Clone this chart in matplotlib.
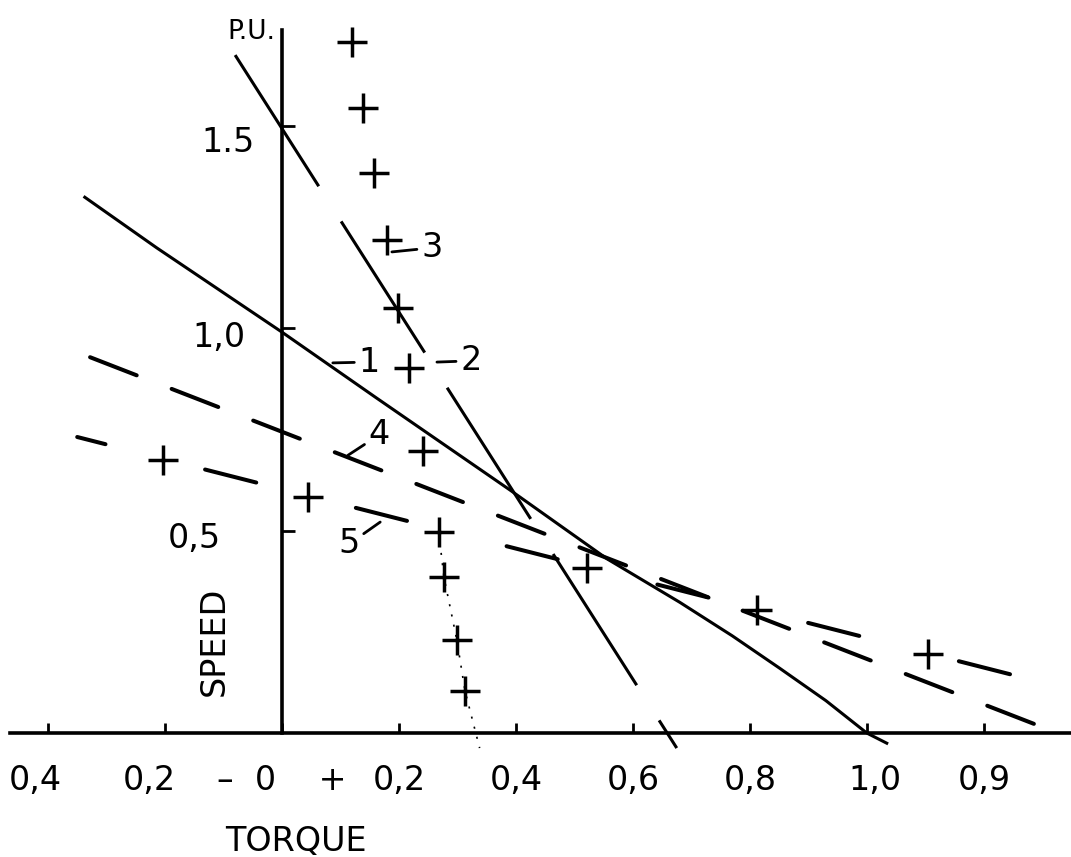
import matplotlib
matplotlib.use("Agg")
import matplotlib.pyplot as plt
from matplotlib.transforms import ScaledTranslation

plt.rcParams['font.family'] = ['DejaVu Sans']
plt.rcParams['lines.scale_dashes'] = False

# Curva 1 (continua): par vs velocidad en p.u.
c1_torque = [-0.337, -0.214, 0.0, 0.162, 0.390, 0.556, 0.680, 0.770, 0.851, 0.930, 1.0, 1.034]
c1_speed = [1.323, 1.198, 0.99, 0.827, 0.600, 0.430, 0.323, 0.240, 0.160, 0.080, 0.0, -0.025]

# Recta 2 (trazos largos)
c2_torque = [-0.080, 0.675]
c2_speed = [1.674, -0.037]

# Puntos 3 (cruces)
p3_torque = [0.120, 0.138, 0.157, 0.179, 0.198, 0.217, 0.241, 0.268, 0.277, 0.299, 0.313]
p3_speed = [1.706, 1.543, 1.383, 1.217, 1.049, 0.901, 0.696, 0.496, 0.385, 0.230, 0.104]
p3_end = (0.338, -0.037)

# Recta 4 (trazos)
c4_torque = [-0.328, 1.344]
c4_speed = [0.928, -0.010]

# Recta 5 (trazos con cruces)
c5_torque = [-0.350, 1.270]
c5_speed = [0.731, 0.136]
p5_torque = [-0.203, 0.044, 0.521, 0.812, 1.104]
p5_speed = [0.674, 0.583, 0.407, 0.304, 0.195]

xticks = [-0.4, -0.2, 0.0, 0.2, 0.4, 0.6, 0.8, 1.0, 1.2]
xlabels = ['0,4', '0,2', '–  0    +', '0,2', '0,4', '0,6', '0,8', '1,0', '0,9']
yticks = [0.5, 1.0, 1.5]
ylabels = ['0,5', '1,0', '1.5']

fig = plt.figure(figsize=(10.71, 8.57), dpi=100)
ax = fig.add_axes([0, 0, 1, 1])
ax.set_xlim(-0.482, 1.349)
ax.set_ylim(-0.306, 1.810)

for s in ['top', 'right']:
    ax.spines[s].set_visible(False)
ax.spines['left'].set_position(('data', 0))
ax.spines['bottom'].set_position(('data', 0))
ax.spines['left'].set_bounds(0, 1.736)
ax.spines['bottom'].set_bounds(-0.465, 1.349)
ax.spines['left'].set_linewidth(2.6)
ax.spines['bottom'].set_linewidth(2.6)

ax.set_xticks(xticks, xlabels)
ax.set_yticks(yticks, ylabels)
ax.tick_params(axis='x', direction='in', length=7, width=2, pad=22, labelsize=24)
ax.tick_params(axis='y', direction='in', length=9, width=2, pad=26, labelsize=24)

# rotulos escritos a mano: pequeños desplazamientos (en puntos)
x_shift = [(-9, 0), (-11, 0), (0, 0), (0, 0), (0, 0), (0, 0), (0, 0), (6, 0), (0, 0)]
y_shift = [(-18, -3), (0, -4), (6, -10)]
for lbl, (dx, dy) in zip(ax.get_xticklabels(), x_shift):
    lbl.set_transform(lbl.get_transform() + ScaledTranslation(dx / 72, dy / 72, fig.dpi_scale_trans))
for lbl, (dx, dy) in zip(ax.get_yticklabels(), y_shift):
    lbl.set_transform(lbl.get_transform() + ScaledTranslation(dx / 72, dy / 72, fig.dpi_scale_trans))

ax.set_xlabel('TORQUE', fontsize=24, va='center')
ax.xaxis.set_label_coords(0.024, -0.267, transform=ax.transData)
ax.set_ylabel('SPEED', fontsize=24, va='center')
ax.yaxis.set_label_coords(-0.116, 0.227, transform=ax.transData)
ax.text(-0.053, 1.731, 'P.U.', ha='center', va='center', fontsize=19)

# curvas
ax.plot(c1_torque, c1_speed, color='black', lw=2.2, solid_joinstyle='round')
ax.plot(c2_torque, c2_speed, color='black', lw=2.2, linestyle=(0, (112, 30)))
ax.plot(c4_torque, c4_speed, color='black', lw=2.9, linestyle=(0, (36, 27)),
        dash_capstyle='round')
ax.plot(c5_torque, c5_speed, color='black', lw=2.9, linestyle=(17, (38, 74)),
        dash_capstyle='round')
ax.plot(p3_torque[7:] + [p3_end[0]], p3_speed[7:] + [p3_end[1]],
        color='black', lw=1.2, linestyle=(0, (1.5, 6)))
ax.plot(p3_torque, p3_speed, linestyle='none', marker='+', ms=21, mew=2.5, color='black')
ax.plot(p5_torque, p5_speed, linestyle='none', marker='+', ms=21, mew=2.5, color='black')

# etiquetas de las curvas
lead = dict(arrowstyle='-', color='black', lw=2, shrinkA=1, shrinkB=0)
ax.annotate('1', xy=(0.087, 0.914), xytext=(0.149, 0.916), fontsize=24,
            ha='center', va='center', arrowprops=lead)
ax.annotate('2', xy=(0.265, 0.916), xytext=(0.323, 0.919), fontsize=24,
            ha='center', va='center', arrowprops=lead)
ax.annotate('3', xy=(0.188, 1.188), xytext=(0.256, 1.198), fontsize=24,
            ha='center', va='center', arrowprops=lead)
ax.annotate('4', xy=(0.113, 0.686), xytext=(0.166, 0.736), fontsize=24,
            ha='center', va='center', arrowprops=lead)
ax.annotate('5', xy=(0.168, 0.521), xytext=(0.115, 0.467), fontsize=24,
            ha='center', va='center', arrowprops=lead)

fig.savefig('out.png', dpi=100)
